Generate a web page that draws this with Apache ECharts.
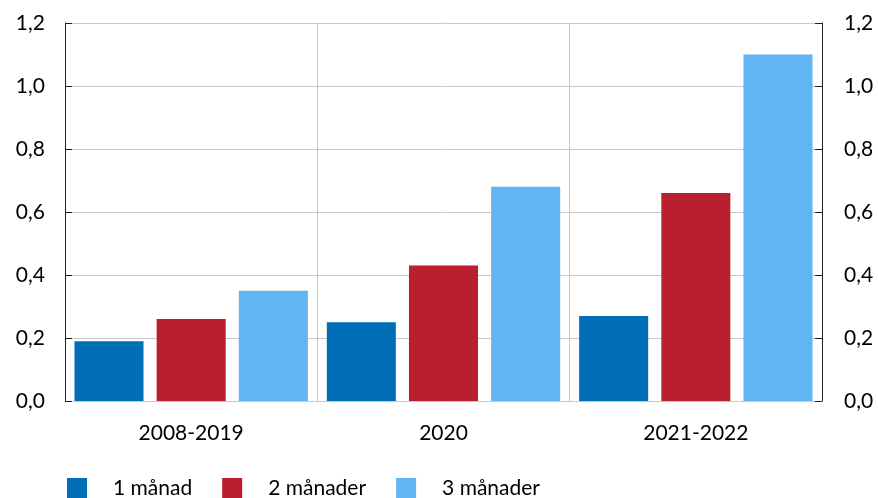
<!DOCTYPE html>
<html>
<head>
<meta charset="utf-8">
<script src="https://cdn.jsdelivr.net/npm/echarts@6/dist/echarts.min.js"></script>
<style>
  html, body { margin: 0; padding: 0; background: #fff; }
  #chart { width: 878px; height: 498px; }
</style>
</head>
<body>
<div id="chart"></div>
<script>
const categories = ['2008-2019', '2020', '2021-2022'];
const seriesNames = ['1 månad', '2 månader', '3 månader'];
const oneMonth = [0.19, 0.25, 0.27];
const twoMonths = [0.26, 0.43, 0.66];
const threeMonths = [0.35, 0.68, 1.10];
const colors = ['#006FB7', '#B91F2E', '#62B5F3'];

const FONT = 'Lato';
let chart = echarts.init(document.getElementById('chart'));

const fmt = (v) => v.toFixed(1).replace('.', ',');

const valueAxis = (pos) => ({
  type: 'value',
  position: pos,
  min: 0,
  max: 1.2,
  interval: 0.2,
  axisLine: { show: true, lineStyle: { color: '#222', width: 1 } },
  axisTick: { show: true, inside: true, length: 7, lineStyle: { color: '#222' } },
  axisLabel: {
    formatter: fmt,
    fontFamily: FONT,
    fontSize: 21,
    color: '#000',
    margin: pos === 'left' ? 20 : 22
  },
  splitLine: { show: pos === 'left', lineStyle: { color: '#c8c8c8', width: 1 } }
});

let option = {
  animation: false,
  color: colors,
  grid: { left: 65, right: 56, top: 23, bottom: 97, containLabel: false },
  legend: {
    left: 62,
    top: 473,
    itemWidth: 20,
    itemHeight: 21,
    itemGap: 30,
    icon: 'rect',
    textStyle: {
      fontFamily: FONT,
      fontSize: 21,
      color: '#000',
      padding: [0, 0, 0, 21]
    },
    data: seriesNames
  },
  xAxis: {
    type: 'category',
    data: categories,
    axisLine: { show: true, lineStyle: { color: '#c8c8c8' } },
    axisTick: { show: false },
    axisLabel: { fontFamily: FONT, fontSize: 21, color: '#000', margin: 22 },
    splitLine: { show: true, lineStyle: { color: '#c8c8c8', width: 1 } }
  },
  yAxis: [valueAxis('left'), valueAxis('right')],
  series: [
    { name: seriesNames[0], type: 'bar', data: oneMonth, barGap: '19%', barCategoryGap: '7.5%' },
    { name: seriesNames[1], type: 'bar', data: twoMonths, barGap: '19%', barCategoryGap: '7.5%' },
    { name: seriesNames[2], type: 'bar', data: threeMonths, barGap: '19%', barCategoryGap: '7.5%' }
  ]
};

chart.setOption(option);
</script>
</body>
</html>
